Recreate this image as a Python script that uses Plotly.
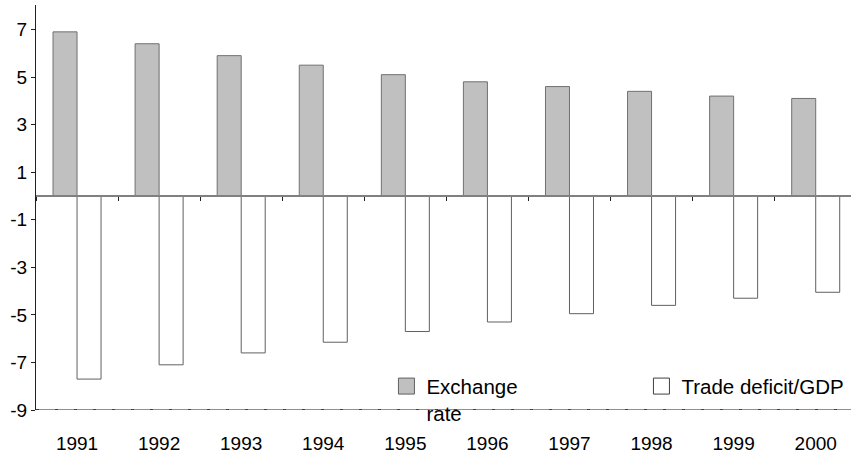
import plotly.graph_objects as go

years = ["1991", "1992", "1993", "1994", "1995", "1996", "1997", "1998", "1999", "2000"]
exchange_rate = [6.9, 6.4, 5.9, 5.5, 5.1, 4.8, 4.6, 4.4, 4.2, 4.1]
trade_deficit_gdp = [-7.7, -7.1, -6.6, -6.15, -5.7, -5.3, -4.95, -4.6, -4.3, -4.05]
y_tick_vals = [7, 5, 3, 1, -1, -3, -5, -7, -9]
y_tick_text = ["7", "5", "3", "1", "-1", "-3", "-5", "-7", "-9"]
y_min, y_max = -9, 8.03

FONT = "Liberation Sans, Arial, sans-serif"
FS = 19
LFS = 20.5

fig = go.Figure()
fig.add_trace(go.Bar(x=years, y=exchange_rate, name="Exchange<br>rate",
                     marker=dict(color="#c0c0c0", line=dict(color="#707070", width=1)),
                     showlegend=False))
fig.add_trace(go.Bar(x=years, y=trade_deficit_gdp, name="Trade deficit/GDP",
                     marker=dict(color="white", line=dict(color="#606060", width=1)),
                     showlegend=False))
# label axis at bottom (invisible helper trace provides categories)
fig.add_trace(go.Scatter(x=years, y=[0] * len(years), xaxis="x2", mode="markers",
                         marker=dict(opacity=0), hoverinfo="skip", showlegend=False))
# legend entries
fig.add_trace(go.Scatter(x=[None], y=[None], mode="markers", name="Exchange<br>rate",
                         legendwidth=210,
                         marker=dict(symbol="square", size=18, color="#c0c0c0",
                                     line=dict(color="#606060", width=1))))
fig.add_trace(go.Scatter(x=[None], y=[None], mode="markers", name="Trade deficit/GDP",
                         legendwidth=160,
                         marker=dict(symbol="square", size=18, color="white",
                                     line=dict(color="#404040", width=1))))

# bottom line
fig.add_shape(type="line", xref="x domain", x0=0, x1=1, yref="y", y0=y_min, y1=y_min,
              line=dict(color="#909090", width=2), layer="below")
fig.add_shape(type="line", xref="x domain", x0=0, x1=1, yref="y", y0=y_min, y1=y_min,
              line=dict(color="#404040", width=2, dash="3px,16px"), layer="below")

fig.update_layout(
    width=851, height=453,
    margin=dict(l=36, r=0, t=5, b=43, autoexpand=False),
    paper_bgcolor="white", plot_bgcolor="white",
    barmode="group", bargap=0.415, bargroupgap=0,
    font=dict(family=FONT, size=FS, color="black"),
    xaxis=dict(type="category", range=[-0.5, 9.43], anchor="free",
               position=(0 - y_min) / (y_max - y_min),
               showline=True, linecolor="#808080", linewidth=2,
               ticks="outside", tickson="boundaries", ticklen=4, tickcolor="#202020",
               showticklabels=False, showgrid=False, zeroline=False, fixedrange=True),
    xaxis2=dict(type="category", range=[-0.5, 9.43], overlaying="x", anchor="y", side="bottom",
                showline=False, ticks="", showgrid=False, zeroline=False,
                tickfont=dict(size=FS, family=FONT, color="black"), ticklabelstandoff=20),
    yaxis=dict(range=[y_min, y_max], tickvals=y_tick_vals, ticktext=y_tick_text,
               showline=True, linecolor="#202020",
               linewidth=1, ticks="outside", ticklen=4, tickcolor="#202020",
               showgrid=False, zeroline=False,
               tickfont=dict(size=FS, family=FONT, color="black")),
    legend=dict(orientation="h", x=0.43, xanchor="left", y=0.108, yanchor="top",
                valign="top", bgcolor="rgba(0,0,0,0)", tracegroupgap=0,
                font=dict(size=LFS, family=FONT, color="black"),
                itemclick=False),
)

fig.write_html("out.html", config={"displayModeBar": False},
               post_script="document.body.style.margin='0';")
